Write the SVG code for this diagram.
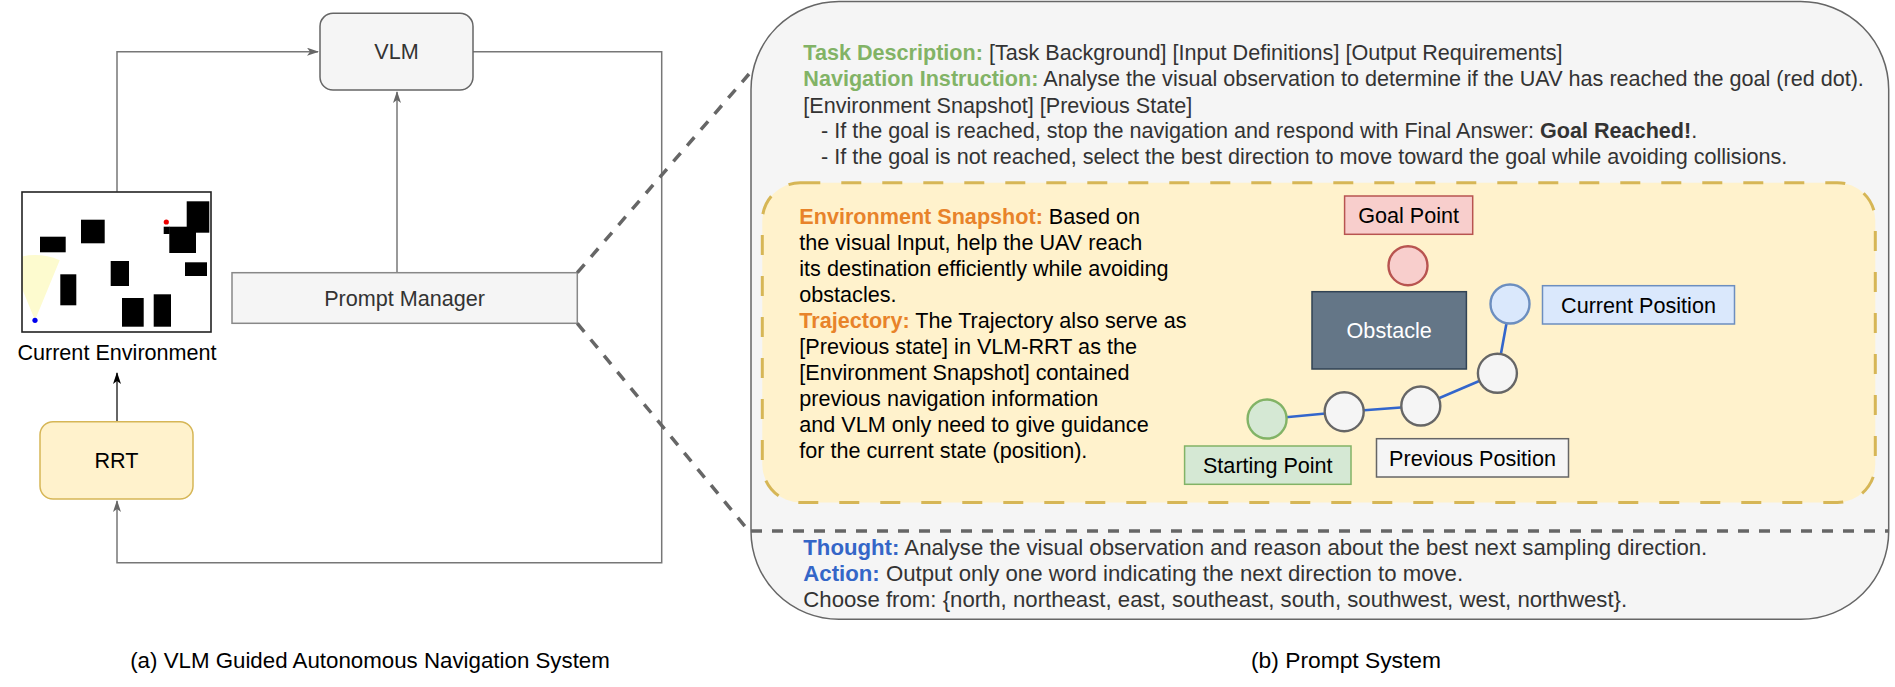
<svg xmlns="http://www.w3.org/2000/svg" width="1895" height="687" viewBox="0 0 1895 687">
<defs>
<style>
text{font-family:"Liberation Sans",Arial,Helvetica,sans-serif;font-size:21.6px;}
.dk{fill:#333333;}
.bk{fill:#000000;}
.b{font-weight:bold;}
.grn{fill:#82b366;font-weight:bold;}
.org{fill:#e8832a;font-weight:bold;}
.blu{fill:#3466c8;font-weight:bold;}
.mid{text-anchor:middle;}
.lg{font-size:22.2px;}
.conn{fill:none;stroke:#777777;stroke-width:1.5;}
.dash{fill:none;stroke:#666666;stroke-width:3.5;stroke-dasharray:11 10;}
.trail{fill:none;stroke:#3366cc;stroke-width:2.6;}
.ob{fill:#000000;}
</style>
<marker id="ah" viewBox="0 0 12 8" refX="11" refY="4" markerWidth="12" markerHeight="8" markerUnits="userSpaceOnUse" orient="auto">
<path d="M0,0 L12,4 L0,8 L3,4 z" fill="#666666"/>
</marker>
<marker id="ahk" viewBox="0 0 12 8" refX="11" refY="4" markerWidth="12" markerHeight="8" markerUnits="userSpaceOnUse" orient="auto">
<path d="M0,0 L12,4 L0,8 L3,4 z" fill="#000000"/>
</marker>
<clipPath id="envclip"><rect x="22" y="192" width="189" height="140"/></clipPath>
</defs>
<rect width="1895" height="687" fill="#ffffff"/>

<!-- connectors -->
<g id="connectors">
<path class="conn" d="M117,191.7 V51.7 H318" marker-end="url(#ah)"/>
<path class="conn" d="M397,272.7 V92" marker-end="url(#ah)"/>
<path class="conn" d="M473,51.7 H661.7 V562.7 H117 V501" marker-end="url(#ah)"/>
<path d="M117,421.7 V373" fill="none" stroke="#333333" stroke-width="1.5" marker-end="url(#ahk)"/>
</g>

<!-- left nodes -->
<g id="vlm">
<rect x="320" y="13.3" width="153" height="76.7" rx="13" fill="#f5f5f5" stroke="#666666" stroke-width="1.5"/>
<text class="mid" x="396.5" y="59" fill="#333333">VLM</text>
</g>
<g id="prompt-manager">
<rect x="232" y="272.7" width="345.3" height="50.6" fill="#f5f5f5" stroke="#888888" stroke-width="1.5"/>
<text class="mid dk" x="404.6" y="305.5">Prompt Manager</text>
</g>
<g id="current-environment">
<rect x="22" y="192" width="189" height="140" fill="#ffffff"/>
<path d="M35,320.3 L10.4,260.1 A65,65 0 0 1 59.7,260.2 Z" fill="#fdfbcf" clip-path="url(#envclip)"/>
<rect class="ob" x="40" y="236.7" width="25.7" height="15.6"/>
<rect class="ob" x="81" y="219.7" width="23.7" height="23.6"/>
<rect class="ob" x="60.3" y="274.3" width="16" height="31"/>
<rect class="ob" x="110.7" y="261" width="18.3" height="25"/>
<rect class="ob" x="122" y="298" width="21.7" height="28.7"/>
<rect class="ob" x="153.7" y="294.3" width="17.3" height="32.4"/>
<rect class="ob" x="185" y="262.3" width="22" height="13.7"/>
<rect class="ob" x="186.7" y="201.3" width="22.6" height="31.4"/>
<rect class="ob" x="169.3" y="226.7" width="26.7" height="26.3"/>
<rect class="ob" x="163.7" y="226.7" width="6" height="7.3"/>
<circle cx="166.3" cy="222" r="2.6" fill="#ee0000"/>
<circle cx="35" cy="320.3" r="2.6" fill="#0000ee"/>
<rect x="22" y="192" width="189" height="140" fill="none" stroke="#222222" stroke-width="1.6"/>
<text class="mid bk" x="117" y="360">Current Environment</text>
</g>
<g id="rrt">
<rect x="40" y="421.7" width="153" height="77.3" rx="13" fill="#fff2cc" stroke="#d6b656" stroke-width="1.5"/>
<text class="mid bk" x="116.5" y="468">RRT</text>
</g>

<!-- prompt system -->
<g id="prompt-system">
<rect x="751" y="1.5" width="1137.7" height="617.8" rx="88" ry="88" fill="#f5f5f5" stroke="#666666" stroke-width="1.5"/>
<text x="803.3" y="60" class="dk"><tspan class="grn">Task Description:</tspan> [Task Background] [Input Definitions] [Output Requirements]</text>
<text x="803.3" y="86" class="dk"><tspan class="grn">Navigation Instruction:</tspan> Analyse the visual observation to determine if the UAV has reached the goal (red dot).</text>
<text x="803.3" y="112.5" class="dk">[Environment Snapshot] [Previous State]</text>
<text x="821" y="138" class="dk">- If the goal is reached, stop the navigation and respond with Final Answer: <tspan class="b">Goal Reached!</tspan>.</text>
<text x="821" y="164.3" class="dk">- If the goal is not reached, select the best direction to move toward the goal while avoiding collisions.</text>
<text x="803.3" y="555" class="dk lg"><tspan class="blu">Thought:</tspan> Analyse the visual observation and reason about the best next sampling direction.</text>
<text x="803.3" y="581" class="dk lg"><tspan class="blu">Action:</tspan> Output only one word indicating the next direction to move.</text>
<text x="803.3" y="606.5" class="dk lg">Choose from: {north, northeast, east, southeast, south, southwest, west, northwest}.</text>
</g>

<g id="environment-snapshot">
<rect x="762.3" y="182.7" width="1113" height="319.8" rx="38" ry="38" fill="#fff2cc" stroke="#d6b656" stroke-width="3" stroke-dasharray="20 21"/>
<text x="799.3" y="223.5" class="bk"><tspan class="org">Environment Snapshot:</tspan> Based on</text>
<text x="799.3" y="249.5" class="bk">the visual Input, help the UAV reach</text>
<text x="799.3" y="275.5" class="bk">its destination efficiently while avoiding</text>
<text x="799.3" y="301.5" class="bk">obstacles.</text>
<text x="799.3" y="327.5" class="bk"><tspan class="org">Trajectory:</tspan> The Trajectory also serve as</text>
<text x="799.3" y="353.5" class="bk">[Previous state] in VLM-RRT as the</text>
<text x="799.3" y="379.5" class="bk">[Environment Snapshot] contained</text>
<text x="799.3" y="405.5" class="bk">previous navigation information</text>
<text x="799.3" y="431.5" class="bk">and VLM only need to give guidance</text>
<text x="799.3" y="457.5" class="bk">for the current state (position).</text>
</g>

<!-- dashed zoom lines -->
<g id="zoom-lines">
<path class="dash" d="M577.3,272.7 L749,74"/>
<path class="dash" d="M577.3,323.3 L748,530"/>
<path class="dash" d="M751,531 H1889"/>
</g>

<!-- trajectory diagram -->
<g id="trajectory-lines">
<path class="trail" d="M1267.1,419 L1344.2,411.7 L1420.8,406 L1497.4,373.3 L1510,304"/>
</g>
<g id="goal-point">
<rect x="1344.6" y="196" width="128.1" height="38.3" fill="#f8cecc" stroke="#b85450" stroke-width="1.5"/>
<text class="mid bk" x="1408.6" y="223">Goal Point</text>
</g>
<g id="goal-circle"><circle cx="1408" cy="265.7" r="19.5" fill="#f8cecc" stroke="#b85450" stroke-width="2.4"/></g>
<g id="obstacle">
<rect x="1312" y="291.7" width="154.4" height="77.3" fill="#647687" stroke="#314354" stroke-width="1.5"/>
<text class="mid" x="1389.2" y="338" fill="#ffffff">Obstacle</text>
</g>
<g id="current-circle"><circle cx="1510" cy="304" r="19.5" fill="#dae8fc" stroke="#6c8ebf" stroke-width="2.4"/></g>
<g id="current-position">
<rect x="1542.5" y="285.7" width="192" height="38.3" fill="#dae8fc" stroke="#6c8ebf" stroke-width="1.5"/>
<text class="mid bk" x="1638.5" y="312.5">Current Position</text>
</g>
<g id="prev-circle-3"><circle cx="1497.4" cy="373.3" r="19.5" fill="#f5f5f5" stroke="#666666" stroke-width="2.4"/></g>
<g id="prev-circle-2"><circle cx="1420.8" cy="406" r="19.5" fill="#f5f5f5" stroke="#666666" stroke-width="2.4"/></g>
<g id="prev-circle-1"><circle cx="1344.2" cy="411.7" r="19.5" fill="#f5f5f5" stroke="#666666" stroke-width="2.4"/></g>
<g id="start-circle"><circle cx="1267.1" cy="419" r="19.5" fill="#d5e8d4" stroke="#82b366" stroke-width="2.4"/></g>
<g id="starting-point">
<rect x="1184.6" y="446" width="166.4" height="38.3" fill="#d5e8d4" stroke="#82b366" stroke-width="1.5"/>
<text class="mid bk" x="1267.8" y="473">Starting Point</text>
</g>
<g id="previous-position">
<rect x="1376.5" y="438.7" width="192" height="38.3" fill="#f5f5f5" stroke="#666666" stroke-width="1.5"/>
<text class="mid bk" x="1472.5" y="465.5">Previous Position</text>
</g>

<!-- captions -->
<text class="mid bk" x="370" y="668" style="font-size:22.3px">(a) VLM Guided Autonomous Navigation System</text>
<text class="mid bk" x="1346" y="668" style="font-size:22.8px">(b) Prompt System</text>
</svg>
